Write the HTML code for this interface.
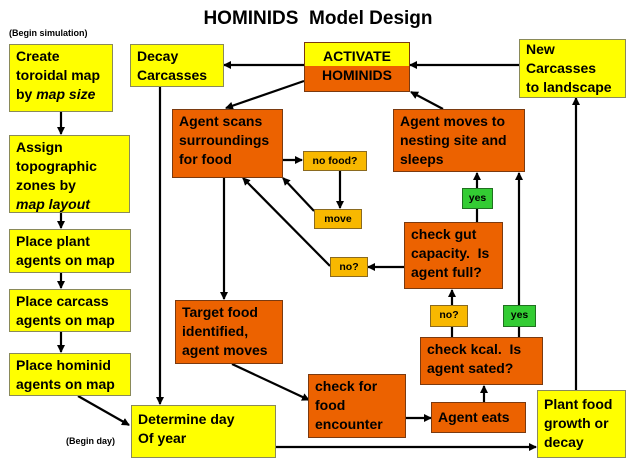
<!DOCTYPE html>
<html><head><style>
body{margin:0;width:636px;height:473px;background:#fff;position:relative;overflow:hidden;font-family:"Liberation Sans",sans-serif;}
.b{position:absolute;box-sizing:border-box;border:1px solid #8a8a5a;font-weight:bold;font-size:14px;line-height:19px;padding:2px 0 0 6px;color:#000;}
.y{background:#ffff00;}
.o{background:#ec6200;border-color:#7a3a10;}
.s{background:#f8b800;font-size:10.5px;line-height:16px;padding:1px 0 0 0;text-align:center;border-color:#8a6a20;}
.g{background:#33cc33;font-size:10.5px;line-height:16px;padding:1px 0 0 0;text-align:center;border-color:#207020;}
.t{position:absolute;font-weight:bold;}
svg{position:absolute;left:0;top:0;}
</style></head><body>
<div class="t" style="left:0;width:636px;text-align:center;top:8px;font-size:19px;">HOMINIDS&nbsp; Model Design</div>
<div class="t" style="left:9px;top:28px;font-size:9px;">(Begin simulation)</div>
<div class="t" style="left:66px;top:436px;font-size:9px;">(Begin day)</div>

<svg width="636" height="473">
<defs><marker id="a" markerWidth="8" markerHeight="8" refX="7" refY="4" orient="auto" markerUnits="userSpaceOnUse"><path d="M0,0 L8,4 L0,8 z" fill="#000"/></marker></defs>
<g stroke="#000" stroke-width="2.2" fill="none" marker-end="url(#a)">
<line x1="61" y1="112" x2="61" y2="134"/>
<line x1="61" y1="213" x2="61" y2="228"/>
<line x1="61" y1="273" x2="61" y2="288"/>
<line x1="61" y1="332" x2="61" y2="352"/>
<line x1="78" y1="396" x2="129" y2="425"/>
<line x1="160" y1="87" x2="160" y2="404"/>
<line x1="304" y1="65" x2="224" y2="65"/>
<line x1="304" y1="81" x2="226" y2="108"/>
<line x1="519" y1="65" x2="410" y2="65"/>
<line x1="443" y1="109" x2="411" y2="92"/>
<line x1="282" y1="160" x2="302" y2="160"/>
<line x1="340" y1="171" x2="340" y2="208"/>
<line x1="314" y1="211" x2="283" y2="178"/>
<line x1="330" y1="266" x2="243" y2="178"/>
<line x1="404" y1="267" x2="368" y2="267"/>
<line x1="224" y1="177" x2="224" y2="299"/>
<line x1="232" y1="364" x2="309" y2="400"/>
<line x1="406" y1="418" x2="431" y2="418"/>
<line x1="484" y1="402" x2="484" y2="386"/>
<line x1="452" y1="305" x2="452" y2="290"/>
<line x1="519" y1="305" x2="519" y2="173"/>
<line x1="477" y1="188" x2="477" y2="173"/>
<line x1="275" y1="447" x2="536" y2="447"/>
<line x1="576" y1="390" x2="576" y2="98"/>
</g>
<g stroke="#000" stroke-width="2.2">
<line x1="452" y1="337" x2="452" y2="327"/>
<line x1="519" y1="337" x2="519" y2="327"/>
<line x1="477" y1="222" x2="477" y2="209"/>
</g>
</svg>

<div class="b y" style="left:9px;top:44px;width:104px;height:68px;">Create<br>toroidal map<br>by <i>map size</i></div>
<div class="b y" style="left:9px;top:135px;width:121px;height:78px;">Assign<br>topographic<br>zones by<br><i>map layout</i></div>
<div class="b y" style="left:9px;top:229px;width:122px;height:44px;">Place plant<br>agents on map</div>
<div class="b y" style="left:9px;top:289px;width:122px;height:43px;">Place carcass<br>agents on map</div>
<div class="b y" style="left:9px;top:353px;width:122px;height:43px;">Place hominid<br>agents on map</div>
<div class="b y" style="left:130px;top:44px;width:94px;height:43px;">Decay<br>Carcasses</div>
<div class="b" style="left:304px;top:42px;width:106px;height:50px;padding:0;background:linear-gradient(#ffff00 0 48%,#ec6200 48%);border-color:#7a3a10;text-align:center;line-height:19px;padding-top:4px;">ACTIVATE<br>HOMINIDS</div>
<div class="b y" style="left:519px;top:39px;width:107px;height:59px;padding-top:0;">New<br>Carcasses<br>to landscape</div>
<div class="b o" style="left:172px;top:109px;width:111px;height:69px;">Agent scans<br>surroundings<br>for food</div>
<div class="b s" style="left:303px;top:151px;width:64px;height:20px;">no food?</div>
<div class="b s" style="left:314px;top:209px;width:48px;height:20px;">move</div>
<div class="b o" style="left:393px;top:109px;width:132px;height:63px;">Agent moves to<br>nesting site and<br>sleeps</div>
<div class="b g" style="left:462px;top:188px;width:31px;height:21px;">yes</div>
<div class="b o" style="left:404px;top:222px;width:99px;height:67px;">check gut<br>capacity.&nbsp; Is<br>agent full?</div>
<div class="b s" style="left:330px;top:257px;width:38px;height:20px;">no?</div>
<div class="b s" style="left:430px;top:305px;width:38px;height:22px;">no?</div>
<div class="b g" style="left:503px;top:305px;width:33px;height:22px;">yes</div>
<div class="b o" style="left:420px;top:337px;width:123px;height:48px;">check kcal.&nbsp; Is<br>agent sated?</div>
<div class="b o" style="left:175px;top:300px;width:108px;height:64px;">Target food<br>identified,<br>agent moves</div>
<div class="b o" style="left:308px;top:374px;width:98px;height:64px;">check for<br>food<br>encounter</div>
<div class="b o" style="left:431px;top:402px;width:95px;height:31px;padding-top:5px;">Agent eats</div>
<div class="b y" style="left:131px;top:405px;width:145px;height:53px;padding-top:4px;">Determine day<br>Of year</div>
<div class="b y" style="left:537px;top:390px;width:89px;height:68px;padding-top:4px;">Plant food<br>growth or<br>decay</div>
</body></html>
